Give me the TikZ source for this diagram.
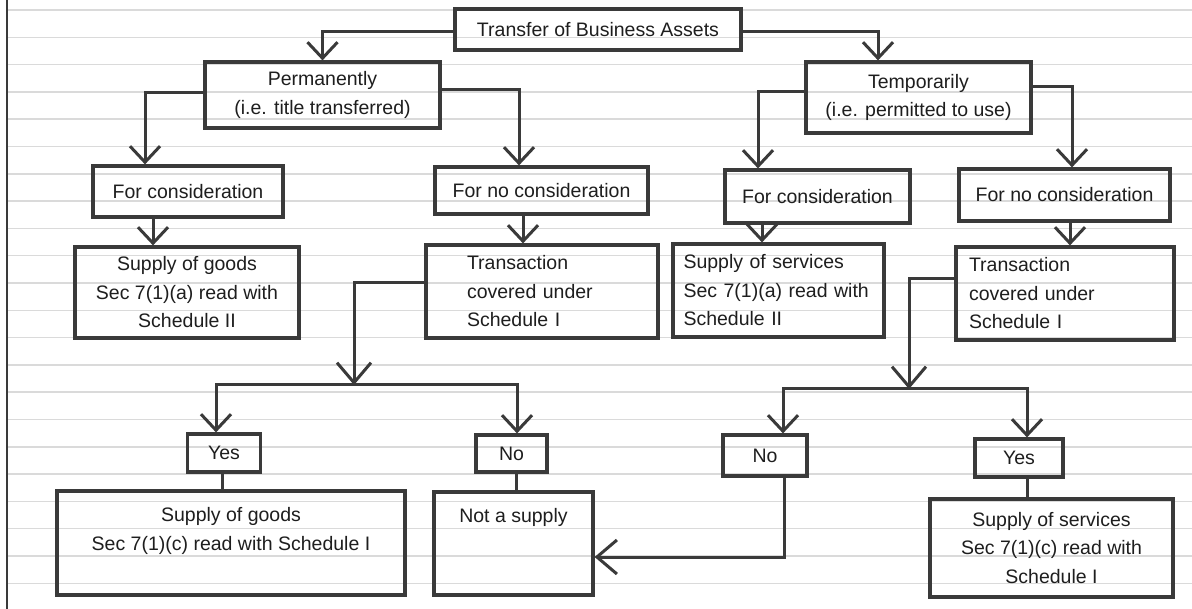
\documentclass[tikz,border=0pt]{standalone}
\usepackage{fontspec}
\setmainfont{Liberation Sans}
\usetikzlibrary{arrows.meta,calc}
\definecolor{ink}{HTML}{3A3A3A}
\definecolor{txt}{HTML}{1E1E1E}
\definecolor{ruleline}{HTML}{DADADA}
\begin{document}
\begin{tikzpicture}[x=1pt,y=-1pt,
  bx/.style={draw=ink, line width=3.2pt, inner sep=0pt, text=txt,
    font=\fontsize{19.5}{28.5}\selectfont, align=center},
  lt/.style={align=left, text width=#1},
  cn/.style={draw=ink, line width=3pt},
  arr/.style={-{Straight Barb[length=16pt,width=30pt]}},
  bigarr/.style={-{Straight Barb[length=20pt,width=34pt]}},
  ruled/.style={draw=ruleline, line width=1.5pt}]
\useasboundingbox (0,0) rectangle (1192,609);
\fill[white] (0,0) rectangle (1192,609);
\foreach \k in {0,...,21} \draw[ruled] (7,{10+27.3*\k}) -- (1192,{10+27.3*\k});
\draw[ink, line width=2pt] (7,0) -- (7,609);

% nodes
\node[bx, minimum width=286pt, minimum height=41pt] (title) at (598,29.5) {Transfer of Business Assets};
\node[bx, minimum width=235pt, minimum height=66pt] (perm) at (322.5,95) {Permanently\\(i.e. title transferred)};
\node[bx, minimum width=225pt, minimum height=71pt] (temp) at (918.5,97.5) {Temporarily\\(i.e. permitted to use)};
\node[bx, minimum width=190pt, minimum height=51pt] (fc1) at (188,191.5) {For consideration};
\node[bx, minimum width=213pt, minimum height=47pt] (fnc1) at (541.5,190.5) {For no consideration};
\node[bx, minimum width=185pt, minimum height=53pt] (fc2) at (817.5,196.5) {For consideration};
\node[bx, minimum width=211pt, minimum height=52pt] (fnc2) at (1064.5,195) {For no consideration};
\node[bx, minimum width=224pt, minimum height=91pt] (sg1) at (187,292.5) {Supply of goods\\Sec 7(1)(a) read with\\Schedule II};
\node[bx, lt=150pt, minimum width=232pt, minimum height=93pt] (tr1) at (542,291.5) {Transaction\\covered under\\Schedule I};
\node[bx, lt=190pt, minimum width=211pt, minimum height=93pt] (ss1) at (778.5,290.5) {Supply of services\\Sec 7(1)(a) read with\\Schedule II};
\node[bx, lt=192pt, minimum width=218pt, minimum height=93pt] (tr2) at (1065,293.5) {Transaction\\covered under\\Schedule I};
\node[bx, minimum width=73pt, minimum height=38pt] (yes1) at (224,453) {Yes};
\node[bx, minimum width=71pt, minimum height=37pt] (no1) at (511.5,453.5) {No};
\node[bx, minimum width=348pt, minimum height=104pt] (sg2) at (231,543) {Supply of goods\\Sec 7(1)(c) read with Schedule I\\\mbox{}};
\node[bx, minimum width=159pt, minimum height=103pt] (nas) at (513.5,543.5) {Not a supply\\\mbox{}\\\mbox{}};
\node[bx, minimum width=84pt, minimum height=41pt] (no2) at (765,455.5) {No};
\node[bx, minimum width=88pt, minimum height=38pt] (yes2) at (1019,458) {Yes};
\node[bx, minimum width=243pt, minimum height=98pt] (ss2) at (1051.5,548) {Supply of services\\Sec 7(1)(c) read with\\Schedule I};
\coordinate (j1) at (354,385);
\coordinate (j2) at (909,389);

% connectors
\draw[cn,arr] (title.west |- 0,32) -| (perm.north);
\draw[cn,arr] (title.east |- 0,32) -| (temp.north -| 878,0);
\draw[cn,arr] (perm.west |- 0,93) -| (fc1.north -| 145,0);
\draw[cn,arr] (perm.east |- 0,90) -| (fnc1.north -| 519,0);
\draw[cn,arr] (temp.west |- 0,92) -| (fc2.north -| 758,0);
\draw[cn,arr] (temp.east |- 0,87) -| (fnc2.north -| 1072,0);
\draw[cn,arr] (fc1.south -| 153,0) -- (sg1.north -| 153,0);
\draw[cn,arr] (fnc1.south -| 523,0) -- (tr1.north -| 523,0);
\draw[cn,arr] (fc2.south -| 762,0) -- (ss1.north -| 762,0);
\draw[cn,arr] (fnc2.south -| 1070,0) -- (tr2.north -| 1070,0);
\draw[cn,bigarr] (tr1.west |- 0,283) -| (j1);
\draw[cn,arr] (j1) -| (yes1.north -| 216,0);
\draw[cn,arr] (j1) -| (no1.north -| 517,0);
\draw[cn] (yes1.south -| 222,0) -- (sg2.north -| 222,0);
\draw[cn] (no1.south -| 516,0) -- (nas.north -| 516,0);
\draw[cn,bigarr] (tr2.west |- 0,279) -| (j2);
\draw[cn,arr] (j2) -| (no2.north -| 783,0);
\draw[cn,arr] (j2) -| (yes2.north -| 1027,0);
\draw[cn,bigarr] (no2.south -| 784,0) |- (nas.east |- 0,557);
\draw[cn] (yes2.south -| 1027,0) -- (ss2.north -| 1027,0);
\end{tikzpicture}
\end{document}
